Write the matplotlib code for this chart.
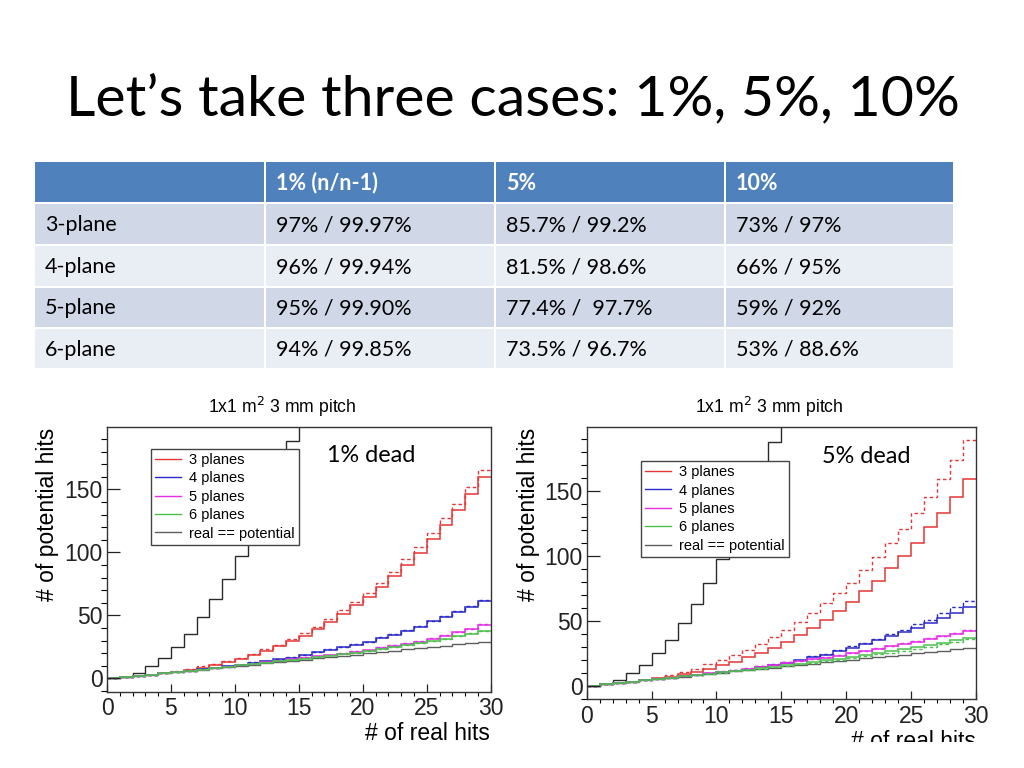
import numpy as np
import matplotlib
matplotlib.use("Agg")
import matplotlib.pyplot as plt
from matplotlib.lines import Line2D
from matplotlib.patches import Rectangle
from matplotlib.ticker import MultipleLocator

plt.rcParams['font.family'] = ['Liberation Sans', 'DejaVu Sans']

# slide text
title = "Let’s take three cases: 1%, 5%, 10%"
col_header = ['', '1% (n/n-1)', '5%', '10%']
row_labels = ['3-plane', '4-plane', '5-plane', '6-plane']
eff_1pct = ['97% / 99.97%', '96% / 99.94%', '95% / 99.90%', '94% / 99.85%']
eff_5pct = ['85.7% / 99.2%', '81.5% / 98.6%', '77.4% /  97.7%', '73.5% / 96.7%']
eff_10pct = ['73% / 97%', '66% / 95%', '59% / 92%', '53% / 88.6%']

# histogram contents, one value per bin of "# of real hits" (bins 0-1, 1-2, ...)
two_plane = [0, 1, 4, 9.5, 16, 25, 35.5, 48.5, 63, 79, 97.5, 117, 139, 163, 188, 214]
real_eq_potential = [0, 1, 2, 3, 4, 5, 6, 7, 8, 9, 10, 11, 12, 13, 14, 15, 16, 17, 18, 19,
                     20, 21, 22, 23, 24, 25, 26, 27, 28, 29]

# 1% dead
p1_red = [0, 1, 2, 2.9, 4.2, 5.5, 6.9, 8.5, 10.6, 12.7, 15.8, 18.5, 21.7, 25.9, 30.1, 33.8, 39.6,
          44.6, 51.2, 58.1, 65.0, 72.4, 81.4, 90.3, 99.8, 110.4, 121.5, 133.4, 146.0, 159.5]
p1_red_d = [0, 1, 2, 3.0, 4.3, 5.7, 7.7, 9.5, 11.6, 14.0, 16.6, 19.5, 23.2, 26.7, 31.2, 35.9, 41.2,
            47.5, 54.1, 61.0, 68.1, 76.0, 84.8, 94.6, 104.6, 115.2, 127.0, 138.4, 151.6, 165.6]
p1_blue = [0, 1, 2, 3, 4.1, 5.1, 6.2, 7.3, 8.4, 9.5, 10.6, 12.2, 13.5, 15.3, 16.6, 18.5, 20.6,
           22.7, 24.6, 26.7, 28.8, 32.0, 34.6, 38.0, 40.7, 45.2, 48.6, 53.0, 57.0, 61.5]
p1_blue_d = [0, 1, 2, 3, 4.1, 5.2, 6.3, 7.4, 8.5, 9.6, 10.8, 12.8, 13.8, 15.6, 17.0, 18.8, 21.0,
             23.6, 25.0, 27.2, 29.2, 32.6, 35.0, 38.6, 41.5, 45.5, 49.2, 53.5, 57.5, 62.5]
p1_mag = [0, 1, 2, 3, 4, 5.1, 6.1, 7.1, 8.2, 9.3, 10.5, 11.6, 12.8, 14.0, 15.2, 16.4, 17.6,
          18.6, 19.6, 21.0, 22.2, 24.1, 26.1, 27.5, 29.3, 31.2, 33.8, 36.5, 39.0, 42.5]
p1_mag_d = [0, 1, 2, 3, 4, 5.1, 6.1, 7.2, 8.3, 9.4, 10.6, 11.8, 13.0, 14.3, 15.5, 16.8, 18.0,
            19.0, 20.1, 21.4, 22.7, 24.6, 26.6, 28.0, 29.8, 31.8, 34.3, 37.0, 39.6, 43.2]
p1_green = [0, 1, 2, 3, 4, 5, 6.1, 7.1, 8.2, 9.2, 10.3, 11.4, 12.5, 13.6, 14.7, 15.8, 16.9,
            18.0, 19.1, 20.2, 21.6, 23.1, 24.6, 26.2, 27.9, 29.6, 31.4, 33.4, 35.4, 37.6]
p1_green_d = [0, 1, 2, 3, 4, 5, 6.1, 7.2, 8.3, 9.3, 10.5, 11.6, 12.7, 13.8, 15.0, 16.1, 17.2,
              18.3, 19.4, 20.5, 21.9, 23.4, 24.9, 26.5, 28.2, 29.9, 31.7, 33.7, 35.7, 37.9]

# 5% dead
p5_red = [0, 1, 2, 3, 4.4, 5.9, 6.7, 8.8, 10.6, 13.1, 15.7, 18.6, 21.9, 25.5, 29.4, 33.8, 38.9,
          44.6, 51.0, 57.7, 64.7, 72.7, 80.9, 90.5, 100.3, 109.8, 122.2, 133.5, 145.9, 159.3]
p5_red_d = [0, 1, 2, 3.2, 4.6, 6.2, 8.5, 10.6, 13.1, 16.5, 20.1, 24.0, 27.8, 32.5, 37.6, 43.3, 49.2,
            56.2, 63.4, 71.6, 79.4, 88.9, 99.5, 109.8, 120.9, 133.0, 145.9, 159.3, 173.7, 189.7]
p5_blue = [0, 1, 2, 3, 4.1, 5.1, 6.2, 7.3, 8.3, 9.3, 10.3, 11.4, 12.4, 14.4, 15.7, 17.5, 19.6,
           21.9, 24.0, 26.5, 29.1, 32.0, 35.0, 38.4, 41.2, 44.8, 48.5, 52.3, 56.4, 60.8]
p5_blue_d = [0, 1, 2, 3, 4.2, 5.2, 6.3, 7.4, 8.5, 9.6, 10.7, 11.8, 13.2, 14.8, 16.5, 18.3, 20.1,
             22.7, 24.7, 27.6, 30.4, 33.0, 36.3, 39.9, 43.3, 47.2, 51.0, 56.2, 60.3, 65.0]
p5_mag = [0, 1, 2, 3, 4, 5.1, 6.2, 7.3, 8.4, 9.5, 10.5, 11.7, 12.9, 14.3, 15.8, 17.5, 18.8,
          20.2, 21.7, 23.2, 24.9, 26.6, 28.5, 30.4, 32.3, 34.0, 36.0, 38.2, 40.2, 42.3]
p5_mag_d = [0, 1, 2, 3, 4, 5.1, 6.3, 7.4, 8.6, 9.8, 11.0, 12.2, 13.4, 14.8, 16.3, 18.0, 19.3,
            20.8, 22.2, 23.7, 25.4, 27.1, 29.0, 30.9, 32.8, 34.6, 36.5, 38.7, 40.8, 42.9]
p5_green = [0, 1, 2, 3, 4, 5, 6.1, 7.1, 8.2, 9.2, 10.3, 11.3, 12.4, 13.5, 14.6, 15.8, 17.0,
            18.2, 19.5, 20.8, 22.2, 23.6, 25.0, 26.5, 28.0, 29.5, 31.1, 33.0, 35.0, 37.1]
p5_green_d = [0, 1, 2, 3, 4, 5, 6.1, 7.1, 8.1, 9.1, 10.1, 11.1, 12.1, 13.2, 14.3, 15.4, 16.5,
              17.7, 18.9, 20.1, 21.4, 22.7, 24.1, 25.5, 27.0, 28.5, 30.0, 31.8, 33.7, 35.7]

legend_labels = ['3 planes', '4 planes', '5 planes', '6 planes', 'real == potential']
RED, BLUE, MAG, GREEN, GRAY, BLACK = '#e53535', '#2a2ac8', '#e52ee5', '#4cc04c', '#5e5e5e', '#2a2a2a'

fig = plt.figure(figsize=(10.24, 7.68), dpi=100)

# ---- slide: title + table (pixel coords overlay)
bg = fig.add_axes([0, 0, 1, 1])
bg.set_xlim(0, 1024)
bg.set_ylim(768, 0)
bg.axis('off')
bg.text(66, 100, title, family='Lato', fontsize=41.2, va='center', ha='left', color='black')

col_x = [35, 266, 496, 726, 955]
row_y = [162, 204, 246, 288, 329, 370]
table_rows = [col_header] + [[row_labels[i], eff_1pct[i], eff_5pct[i], eff_10pct[i]] for i in range(4)]
for r, cells in enumerate(table_rows):
    if r == 0:
        fc = '#4f81bd'
    elif r % 2 == 1:
        fc = '#d0d8e8'
    else:
        fc = '#e9edf4'
    for c, txt in enumerate(cells):
        x0, x1 = col_x[c], col_x[c + 1] - 2
        y0, y1 = row_y[r], row_y[r + 1] - 2
        bg.add_patch(Rectangle((x0, y0), x1 - x0, y1 - y0, facecolor=fc, edgecolor='none'))
        bg.text(x0 + 10, (y0 + y1) / 2 + 1, txt, family='Lato', fontsize=15.5,
                fontweight='bold' if r == 0 else 'normal',
                color='white' if r == 0 else 'black', va='center', ha='left')


def draw_panel(rect, series, leg_anchor, dead_label, dead_xy):
    ax = fig.add_axes(rect)
    ax.stairs(two_plane, np.arange(len(two_plane) + 1), baseline=None, color=BLACK, lw=1.0)
    ax.stairs(real_eq_potential, np.arange(len(real_eq_potential) + 1), baseline=None, color=GRAY, lw=1.0)
    for solid, dashed, col in series:
        ax.stairs(dashed, np.arange(len(dashed) + 1), baseline=None, color=col, lw=1.0, ls=(0, (2.5, 2)))
        ax.stairs(solid, np.arange(len(solid) + 1), baseline=None, color=col, lw=1.1)
    ax.set_xlim(0, 30)
    ax.set_ylim(-10.5, 199.5)
    ax.xaxis.set_major_locator(MultipleLocator(5))
    ax.xaxis.set_minor_locator(MultipleLocator(1))
    ax.yaxis.set_major_locator(MultipleLocator(50))
    ax.yaxis.set_minor_locator(MultipleLocator(10))
    ax.tick_params(direction='in', top=False, right=False, labelsize=16.5, colors='#222222', pad=3)
    ax.tick_params(axis='x', which='major', length=6, width=0.9, pad=4)
    ax.tick_params(axis='x', which='minor', length=3, width=0.8)
    ax.tick_params(axis='y', which='major', length=9.5, width=0.9)
    ax.tick_params(axis='y', which='minor', length=4.5, width=0.8)
    for s in ax.spines.values():
        s.set_color('#333333')
        s.set_linewidth(1.0)
    handles = [Line2D([], [], color=c, lw=1.0) for c in (RED, BLUE, MAG, GREEN, GRAY)]
    leg = ax.legend(handles, legend_labels, loc='upper left', bbox_to_anchor=leg_anchor,
                    fontsize=10.5, frameon=True, fancybox=False, framealpha=1, edgecolor='#444444',
                    borderaxespad=0, borderpad=0.3, labelspacing=0.3, handlelength=1.8,
                    handletextpad=0.5)
    leg.get_frame().set_linewidth(1.0)
    leg.set_zorder(5)
    ax.text(dead_xy[0], dead_xy[1], dead_label, family='Lato', fontsize=16.8, va='center', ha='left')
    return ax


# left panel: 1% dead
draw_panel([107 / 1024, 76.3 / 768, 383.7 / 1024, 264.7 / 768],
           [(p1_red, p1_red_d, RED), (p1_blue, p1_blue_d, BLUE),
            (p1_mag, p1_mag_d, MAG), (p1_green, p1_green_d, GREEN)],
           (0.114, 0.918), '1% dead', (17.2, 176.5))
fig.text(282 / 1024, 1 - 407 / 768, r'1x1 m$^2$ 3 mm pitch', ha='center', va='center', fontsize=12.7)
fig.text(48 / 1024, 1 - 514 / 768, '# of potential hits', rotation=90, ha='center', va='center', fontsize=16.5)
fig.text(490 / 1024, 1 - 733 / 768, '# of real hits', ha='right', va='center', fontsize=16.5)

# right panel: 5% dead
draw_panel([586.7 / 1024, 68.7 / 768, 389.3 / 1024, 272.3 / 768],
           [(p5_red, p5_red_d, RED), (p5_blue, p5_blue_d, BLUE),
            (p5_mag, p5_mag_d, MAG), (p5_green, p5_green_d, GREEN)],
           (0.1387, 0.876), '5% dead', (18.1, 177))
fig.text(769 / 1024, 1 - 407 / 768, r'1x1 m$^2$ 3 mm pitch', ha='center', va='center', fontsize=12.7)
fig.text(528 / 1024, 1 - 514 / 768, '# of potential hits', rotation=90, ha='center', va='center', fontsize=16.5)
fig.text(976 / 1024, 1 - 741 / 768, '# of real hits', ha='right', va='center', fontsize=16.5)

# the slide crops the bottom of the right picture
fig.patches.append(Rectangle((560 / 1024, 0), 464 / 1024, 26.5 / 768, transform=fig.transFigure,
                             facecolor='white', edgecolor='none', zorder=10))

fig.savefig('out.png', dpi=100)
